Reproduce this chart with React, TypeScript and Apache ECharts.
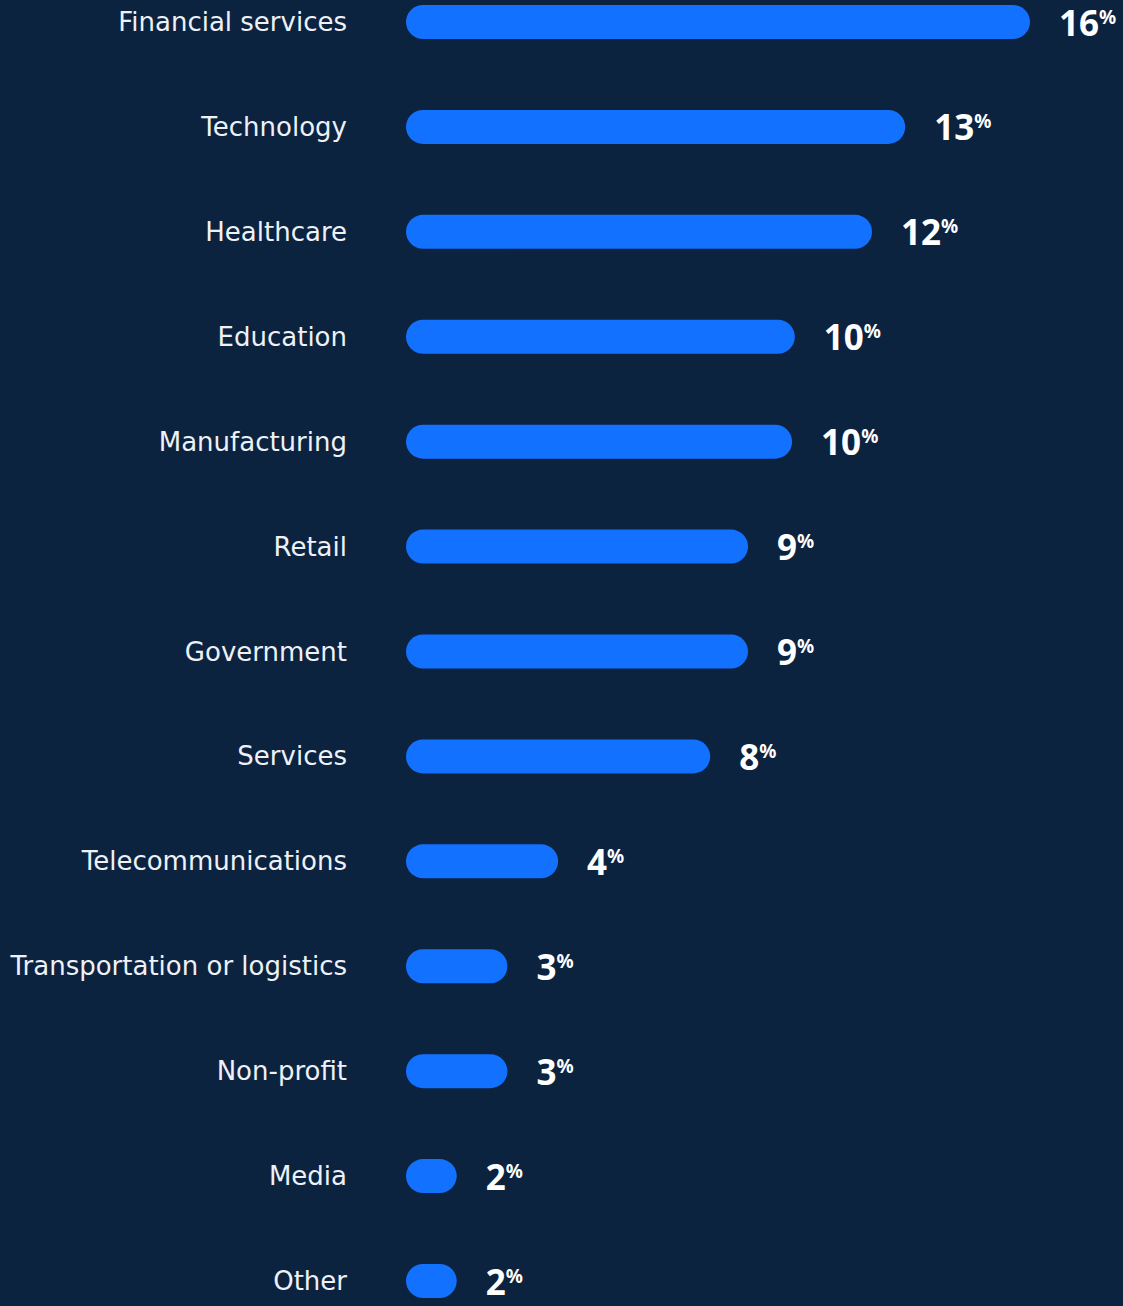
import React, { useEffect, useRef } from "react";
import * as echarts from "echarts";

const categories = [
  "Financial services",
  "Technology",
  "Healthcare",
  "Education",
  "Manufacturing",
  "Retail",
  "Government",
  "Services",
  "Telecommunications",
  "Transportation or logistics",
  "Non-profit",
  "Media",
  "Other",
];
// bar lengths (percent)
const barValues = [16, 12.8, 11.95, 9.97, 9.9, 8.77, 8.77, 7.8, 3.9, 2.6, 2.6, 1.3, 1.3];
// labels as printed
const labelValues = ["16", "13", "12", "10", "10", "9", "9", "8", "4", "3", "3", "2", "2"];

const BG = "#0c2340";
const BAR = "#1271ff";

export default function App() {
  const ref = useRef<HTMLDivElement>(null);
  useEffect(() => {
    document.body.style.margin = "0";
    document.body.style.background = BG;
    const chart = echarts.init(ref.current!, undefined, { renderer: "svg" });
    chart.setOption({
      animation: false,
      backgroundColor: BG,
      grid: { left: 406, right: 15, top: 22, bottom: 25, containLabel: false },
      xAxis: {
        type: "value",
        min: 0,
        max: 18,
        show: false,
      },
      yAxis: {
        type: "category",
        data: categories,
        inverse: true,
        boundaryGap: false,
        axisLine: { show: false },
        axisTick: { show: false },
        splitLine: { show: false },
        axisLabel: {
          color: "#eef1f6",
          fontSize: 26,
          fontWeight: "normal",
          fontFamily: "DejaVu Sans",
          margin: 59,
        },
      },
      series: [
        {
          type: "bar",
          data: barValues,
          barWidth: 34,
          itemStyle: { color: BAR, borderRadius: 17 },
          label: {
            show: true,
            position: "right",
            distance: 29,
            formatter: (p: any) => `{n|${labelValues[p.dataIndex]}}{p|%}`,
            rich: {
              n: {
                color: "#ffffff",
                fontSize: 35,
                fontWeight: 700,
                fontFamily: "Noto Sans",
                lineHeight: 30,
              },
              p: {
                color: "#ffffff",
                fontSize: 19,
                fontWeight: 700,
                fontFamily: "Noto Sans",
                lineHeight: 19,
                verticalAlign: "top",
              },
            },
          },
        },
      ],
    });
    return () => chart.dispose();
  }, []);
  return <div ref={ref} style={{ width: 1123, height: 1306 }} />;
}
